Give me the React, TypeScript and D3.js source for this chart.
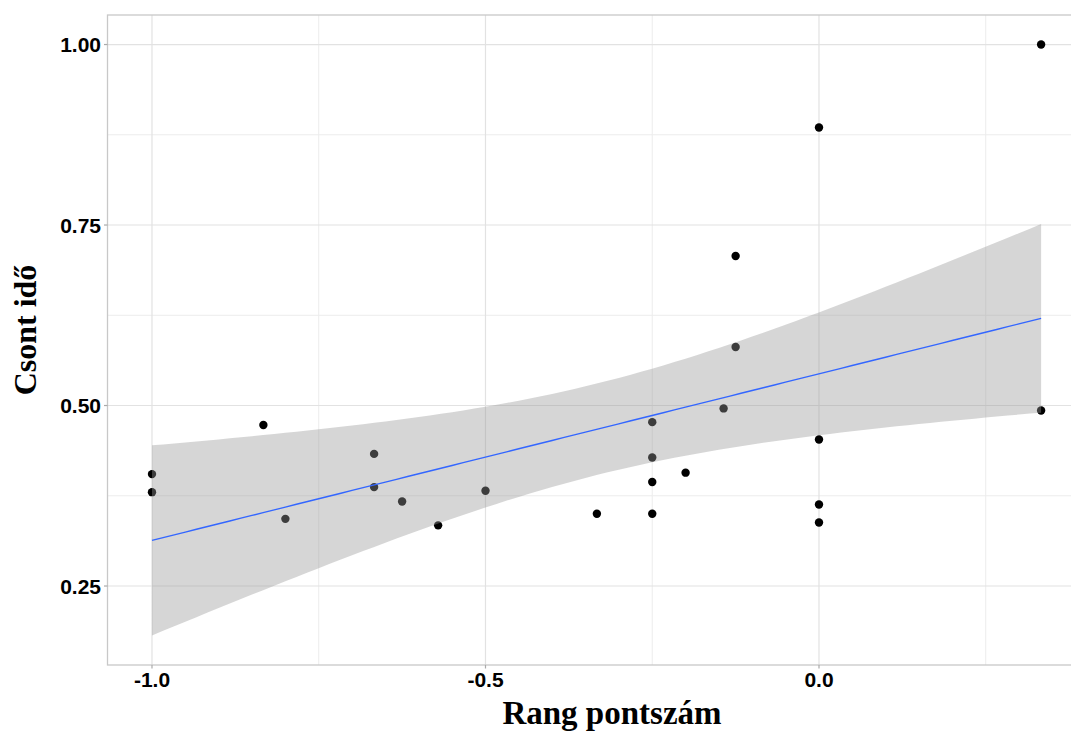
import React from "react";
import * as d3 from "d3";

// Rang pontszám (x) and Csont idő (y) for each observation
const rangScore: number[] = [
  -1.0, -1.0, -0.833, -0.8, -0.667, -0.667, -0.625, -0.571, -0.5, -0.333,
  -0.25, -0.25, -0.25, -0.25, -0.2, -0.143, -0.125, -0.125,
  0.0, 0.0, 0.0, 0.0, 0.333, 0.333,
];
const boneTime: number[] = [
  0.405, 0.38, 0.473, 0.343, 0.433, 0.387, 0.367, 0.334, 0.382, 0.35,
  0.477, 0.428, 0.394, 0.35, 0.407, 0.496, 0.707, 0.581,
  0.885, 0.453, 0.363, 0.338, 1.0, 0.493,
];

const xMajorTicks = [-1.0, -0.5, 0.0];
const xMinorTicks = [-0.75, -0.25, 0.25];
const yMajorTicks = [0.25, 0.5, 0.75, 1.0];
const yMinorTicks = [0.375, 0.625, 0.875];

const W = 1071;
const H = 731;
const panel = { left: 107.5, right: 1085.8, top: 15, bottom: 665 };

// Ordinary least squares fit with a 95% confidence band
function linearFit(xs: number[], ys: number[]) {
  const n = xs.length;
  const xbar = d3.mean(xs)!;
  const ybar = d3.mean(ys)!;
  let sxx = 0;
  let sxy = 0;
  xs.forEach((x, i) => {
    sxx += (x - xbar) ** 2;
    sxy += (x - xbar) * (ys[i] - ybar);
  });
  const slope = sxy / sxx;
  const intercept = ybar - slope * xbar;
  let sse = 0;
  xs.forEach((x, i) => {
    sse += (ys[i] - (intercept + slope * x)) ** 2;
  });
  const s = Math.sqrt(sse / (n - 2));
  const tCrit = 2.0739; // t(0.975, df = 22)
  const [x0, x1] = d3.extent(xs) as [number, number];
  return d3.range(0, 81).map((k) => {
    const x = x0 + ((x1 - x0) * k) / 80;
    const fit = intercept + slope * x;
    const se = s * Math.sqrt(1 / n + (x - xbar) ** 2 / sxx);
    return { x, fit, lo: fit - tCrit * se, hi: fit + tCrit * se };
  });
}

// plain hyphen-minus for negative tick labels
const fmtX = (v: number) => d3.format(".1f")(v).replace("\u2212", "-");
const fmtY = (v: number) => d3.format(".2f")(v).replace("\u2212", "-");

export default function App() {
  const x = d3.scaleLinear().domain([-1.0667, 0.4]).range([panel.left, panel.right]);
  const y = d3.scaleLinear().domain([0.1406, 1.0409]).range([panel.bottom, panel.top]);

  const band = linearFit(rangScore, boneTime);
  const area = d3
    .area<{ x: number; lo: number; hi: number }>()
    .x((d) => x(d.x))
    .y0((d) => y(d.lo))
    .y1((d) => y(d.hi));
  const line = d3
    .line<{ x: number; fit: number }>()
    .x((d) => x(d.x))
    .y((d) => y(d.fit));

  const tickFont = "'Liberation Sans', Arial, sans-serif";
  const titleFont = "'Liberation Serif', 'Times New Roman', serif";

  return (
    <svg
      width={W}
      height={H}
      style={{ position: "absolute", left: 0, top: 0, background: "#fff" }}
    >
      <defs>
        <clipPath id="panel-clip">
          <rect
            x={panel.left}
            y={panel.top}
            width={panel.right - panel.left}
            height={panel.bottom - panel.top}
          />
        </clipPath>
      </defs>

      {/* grid */}
      <g clipPath="url(#panel-clip)">
        {yMinorTicks.map((t) => (
          <line key={"ym" + t} x1={panel.left} x2={panel.right} y1={y(t)} y2={y(t)} stroke="#ececec" strokeWidth={1} />
        ))}
        {xMinorTicks.map((t) => (
          <line key={"xm" + t} x1={x(t)} x2={x(t)} y1={panel.top} y2={panel.bottom} stroke="#ececec" strokeWidth={1} />
        ))}
        {yMajorTicks.map((t) => (
          <line key={"yM" + t} x1={panel.left} x2={panel.right} y1={y(t)} y2={y(t)} stroke="#e2e2e2" strokeWidth={1.2} />
        ))}
        {xMajorTicks.map((t) => (
          <line key={"xM" + t} x1={x(t)} x2={x(t)} y1={panel.top} y2={panel.bottom} stroke="#e2e2e2" strokeWidth={1.2} />
        ))}
      </g>

      {/* observations */}
      <g>
        {rangScore.map((xv, i) => (
          <circle key={i} cx={x(xv)} cy={y(boneTime[i])} r={4.2} fill="#000" />
        ))}
      </g>

      {/* confidence band and fitted line */}
      <path d={area(band) || ""} fill="#999999" fillOpacity={0.4} />
      <path d={line(band) || ""} fill="none" stroke="#3366FF" strokeWidth={1.4} />

      {/* panel border */}
      <rect
        x={panel.left}
        y={panel.top}
        width={panel.right - panel.left}
        height={panel.bottom - panel.top}
        fill="none"
        stroke="#c8c8c8"
        strokeWidth={1.3}
      />

      {/* y axis */}
      {yMajorTicks.map((t) => (
        <g key={"yt" + t}>
          <line x1={panel.left - 3.5} x2={panel.left} y1={y(t)} y2={y(t)} stroke="#aaa" strokeWidth={1.2} />
          <text
            x={panel.left - 6.5}
            y={y(t)}
            dy="0.36em"
            textAnchor="end"
            fontFamily={tickFont}
            fontWeight="bold"
            fontSize={21}
            fill="#000"
          >
            {fmtY(t)}
          </text>
        </g>
      ))}

      {/* x axis */}
      {xMajorTicks.map((t) => (
        <g key={"xt" + t}>
          <line x1={x(t)} x2={x(t)} y1={panel.bottom} y2={panel.bottom + 3.5} stroke="#aaa" strokeWidth={1.2} />
          <text
            x={x(t)}
            y={panel.bottom + 22}
            textAnchor="middle"
            fontFamily={tickFont}
            fontWeight="bold"
            fontSize={21}
            fill="#000"
          >
            {fmtX(t)}
          </text>
        </g>
      ))}

      {/* axis titles */}
      <text
        x={612}
        y={724}
        textAnchor="middle"
        fontFamily={titleFont}
        fontWeight="bold"
        fontSize={33}
        fill="#000"
      >
        Rang pontszám
      </text>
      <text
        transform={`translate(36, 330) rotate(-90)`}
        textAnchor="middle"
        fontFamily={titleFont}
        fontWeight="bold"
        fontSize={32}
        fill="#000"
      >
        Csont idő
      </text>
    </svg>
  );
}
